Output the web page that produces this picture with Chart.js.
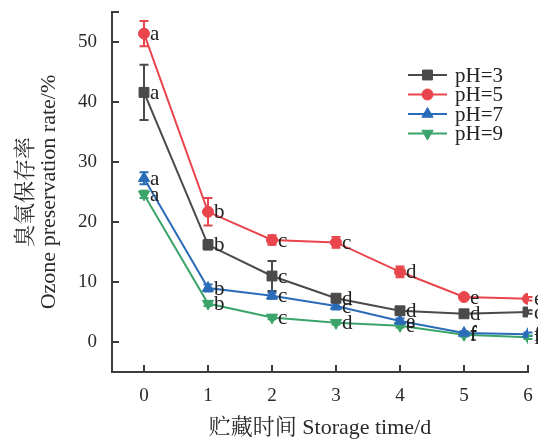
<!DOCTYPE html>
<html>
<head>
<meta charset="utf-8">
<script src="https://cdn.jsdelivr.net/npm/chart.js@4.4.1/dist/chart.umd.min.js"></script>
<style>
  html, body { margin: 0; padding: 0; background: #fff; }
  #wrap { width: 538px; height: 441px; }
</style>
</head>
<body>
<div id="wrap"><canvas id="chart"></canvas></div>
<script>
// storage time (days)
const days = [0, 1, 2, 3, 4, 5, 6];
const seriesNames = ['pH=3', 'pH=5', 'pH=7', 'pH=9'];

// ozone preservation rate (%)
const ph3 = [41.6, 16.2, 11.0, 7.3, 5.2, 4.7, 5.0];
const ph5 = [51.4, 21.7, 17.0, 16.6, 11.7, 7.5, 7.2];
const ph7 = [27.3, 9.0, 7.7, 6.0, 3.5, 1.5, 1.3];
const ph9 = [24.6, 6.4, 4.1, 3.2, 2.7, 1.2, 0.8];

// error bars (+/-)
const ph3Err = [4.6, 0.8, 2.5, 0.5, 0.5, 0.3, 0.3];
const ph5Err = [2.1, 2.3, 0.8, 0.9, 0.9, 0.3, 0.3];
const ph7Err = [1.0, 0.6, 0.5, 0.6, 0.4, 0.3, 0.3];
const ph9Err = [0.6, 0.4, 0.3, 0.3, 0.3, 0.3, 0.3];

// significance letters
const ph3Sig = ['a', 'b', 'c', 'd', 'd', 'd', 'd'];
const ph5Sig = ['a', 'b', 'c', 'c', 'd', 'e', 'e'];
const ph7Sig = ['a', 'b', 'c', 'c', 'e', 'f', 'f'];
const ph9Sig = ['a', 'b', 'c', 'd', 'e', 'f', 'f'];

const yTicks = [0, 10, 20, 30, 40, 50];

const serif = "'Liberation Serif', 'Noto Serif CJK SC', 'Noto Sans CJK SC', serif";
const axisColor = '#3c3c3c';
const textColor = '#2a2a2a';

const colors = ['#4a4a4a', '#e8464c', '#2b6cb8', '#3ba46a'];
const styles = [
  { pointStyle: 'rect', radius: 7, rotation: 0 },
  { pointStyle: 'circle', radius: 5.5, rotation: 0 },
  { pointStyle: 'triangle', radius: 6.5, rotation: 0 },
  { pointStyle: 'triangle', radius: 6.5, rotation: 180 }
];
const values = [ph3, ph5, ph7, ph9];
const errs = [ph3Err, ph5Err, ph7Err, ph9Err];
const sigs = [ph3Sig, ph5Sig, ph7Sig, ph9Sig];

const datasets = seriesNames.map((name, i) => ({
  label: name,
  data: days.map((d, j) => ({ x: d, y: values[i][j] })),
  err: errs[i],
  sig: sigs[i],
  borderColor: colors[i],
  backgroundColor: colors[i],
  borderWidth: 2,
  pointStyle: styles[i].pointStyle,
  pointRadius: styles[i].radius,
  pointRotation: styles[i].rotation,
  pointBorderWidth: 1,
  tension: 0
}));

// error bars under the markers
const errorBars = {
  id: 'errorBars',
  beforeDatasetsDraw(chart) {
    const ctx = chart.ctx;
    const ys = chart.scales.y;
    chart.data.datasets.forEach((ds, i) => {
      const meta = chart.getDatasetMeta(i);
      ctx.save();
      ctx.strokeStyle = ds.borderColor;
      ctx.lineWidth = 2;
      meta.data.forEach((pt, j) => {
        const v = ds.data[j].y, e = ds.err[j];
        const top = ys.getPixelForValue(v + e);
        const bot = ys.getPixelForValue(v - e);
        ctx.beginPath();
        ctx.moveTo(pt.x, top); ctx.lineTo(pt.x, bot);
        ctx.moveTo(pt.x - 4.5, top); ctx.lineTo(pt.x + 4.5, top);
        ctx.moveTo(pt.x - 4.5, bot); ctx.lineTo(pt.x + 4.5, bot);
        ctx.stroke();
      });
      ctx.restore();
    });
  }
};

// letters, inward ticks and legend
const extras = {
  id: 'extras',
  afterDraw(chart) {
    const ctx = chart.ctx;
    const xs = chart.scales.x, ys = chart.scales.y;
    const area = chart.chartArea;

    ctx.save();
    ctx.font = '21px ' + serif;
    ctx.fillStyle = '#222';
    ctx.textBaseline = 'middle';
    ctx.textAlign = 'left';
    chart.data.datasets.forEach((ds, i) => {
      const meta = chart.getDatasetMeta(i);
      meta.data.forEach((pt, j) => {
        ctx.fillText(ds.sig[j], pt.x + 6, pt.y + 1);
      });
    });
    ctx.restore();

    ctx.save();
    ctx.strokeStyle = axisColor;
    ctx.lineWidth = 2;
    ctx.beginPath();
    yTicks.concat([55]).forEach(v => {
      const y = Math.round(ys.getPixelForValue(v));
      ctx.moveTo(area.left, y); ctx.lineTo(area.left + 7, y);
    });
    days.forEach(d => {
      const x = Math.round(xs.getPixelForValue(d));
      ctx.moveTo(x, area.bottom); ctx.lineTo(x, area.bottom - 7);
    });
    ctx.stroke();
    ctx.restore();

    // legend
    ctx.save();
    ctx.font = '21px ' + serif;
    ctx.textBaseline = 'middle';
    ctx.textAlign = 'left';
    chart.data.datasets.forEach((ds, i) => {
      const y = 75 + i * 19.5;
      ctx.strokeStyle = ds.borderColor;
      ctx.lineWidth = 2;
      ctx.beginPath();
      ctx.moveTo(408, y); ctx.lineTo(447, y);
      ctx.stroke();
      ctx.fillStyle = ds.backgroundColor;
      ctx.lineWidth = 1;
      Chart.helpers.drawPoint(ctx, {
        pointStyle: ds.pointStyle,
        rotation: ds.pointRotation,
        radius: ds.pointRadius,
        borderWidth: 1
      }, 427.5, y);
      ctx.fillStyle = '#222';
      ctx.fillText(ds.label, 455, y + 1);
    });
    ctx.restore();
  }
};

new Chart(document.getElementById('chart'), {
  type: 'line',
  data: { datasets: datasets },
  plugins: [errorBars, extras],
  options: {
    responsive: true,
    maintainAspectRatio: false,
    animation: false,
    layout: { padding: { top: 12, right: 10, left: 0, bottom: 0 } },
    plugins: {
      legend: { display: false },
      tooltip: { enabled: false }
    },
    scales: {
      x: {
        type: 'linear',
        min: -0.5,
        max: 6,
        afterBuildTicks: s => { s.ticks = days.map(v => ({ value: v })); },
        afterFit: s => { s.height = 69; s.paddingLeft = 0; s.paddingRight = 0; },
        grid: { display: false, drawTicks: false },
        border: { display: true, color: axisColor, width: 2 },
        ticks: {
          padding: 13,
          color: textColor,
          font: { family: serif, size: 19 }
        },
        title: {
          display: true,
          text: '贮藏时间 Storage time/d',
          color: textColor,
          font: { family: serif, size: 22 },
          padding: { top: 0, bottom: 0 }
        }
      },
      y: {
        min: -5,
        max: 55,
        afterBuildTicks: s => { s.ticks = yTicks.map(v => ({ value: v })); },
        afterFit: s => { s.width = 112; s.paddingTop = 0; s.paddingBottom = 0; },
        grid: { display: false, drawTicks: false },
        border: { display: true, color: axisColor, width: 2 },
        ticks: {
          padding: 15,
          color: textColor,
          font: { family: serif, size: 19 }
        },
        title: {
          display: true,
          text: ['臭氧保存率', 'Ozone preservation rate/%'],
          color: textColor,
          font: { family: serif, size: 22, lineHeight: 1.05 },
          padding: { top: 15, bottom: 0 }
        }
      }
    }
  }
});
</script>
</body>
</html>
